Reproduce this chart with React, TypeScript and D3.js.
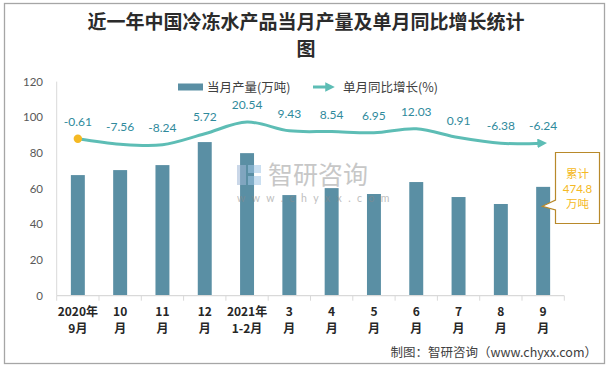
import React from "react";
import * as d3 from "d3";

// chart data
const categories = ["2020年\n9月", "10\n月", "11\n月", "12\n月", "2021年\n1-2月", "3\n月", "4\n月", "5\n月", "6\n月", "7\n月", "8\n月", "9\n月"];
const output = [67.6, 70.4, 73.2, 86.1, 79.9, 56.4, 60.3, 57.0, 63.7, 55.3, 51.4, 61.0];
const growth = [-0.61, -7.56, -8.24, 5.72, 20.54, 9.43, 8.54, 6.95, 12.03, 0.91, -6.38, -6.24];
const yTicks = [0, 20, 40, 60, 80, 100, 120];

const W = 615;
const H = 368;
const margin = { left: 56.7, right: 50.7, top: 81.6, bottom: 72.3 };

const barColor = "#5a8fa4";
const lineColor = "#5dbdb5";
const labelColor = "#2f8a9c";
const numFont = "Lato, 'Liberation Sans', sans-serif";
const cjkFont = "'Noto Sans CJK SC', sans-serif";

export default function App() {
  const x = d3
    .scaleBand<number>()
    .domain(d3.range(categories.length))
    .range([margin.left, W - margin.right])
    .padding(0);
  const y = d3.scaleLinear().domain([0, 120]).range([H - margin.bottom, margin.top]);
  // hidden secondary axis for the growth line
  const y2 = d3.scaleLinear().domain([-200, 72]).range([H - margin.bottom, margin.top]);

  const cx = (i: number) => (x(i) || 0) + x.bandwidth() / 2;
  const barW = x.bandwidth() * 0.33;

  const line = d3
    .line<number>()
    .x((_, i) => cx(i))
    .y((d) => y2(d))
    .curve(d3.curveCatmullRom.alpha(0.5));

  const baseY = y(0);
  const boundaries = d3.range(categories.length + 1).map((i) => margin.left + i * x.bandwidth());

  const last = categories.length - 1;
  const calloutTipX = cx(last) - 0.8;

  return (
    <svg width={W} height={H} style={{ position: "absolute", left: 0, top: 0, background: "#fff" }}>
      <defs>
        <marker id="arrow" viewBox="0 0 10 10" refX="6" refY="5" markerWidth="3.2" markerHeight="3.2" orient="auto">
          <path d="M0,0 L10,5 L0,10 z" fill={lineColor} />
        </marker>
      </defs>

      {/* outer frame */}
      <rect x={4.5} y={3.5} width={600} height={360} fill="none" stroke="#a6a6a6" strokeWidth={1.3} />

      {/* title */}
      <text x={306} y={29} textAnchor="middle" fontFamily={cjkFont} fontWeight={700} fontSize={19} fill="#2b2b2b">
        近一年中国冷冻水产品当月产量及单月同比增长统计
      </text>
      <text x={306} y={56} textAnchor="middle" fontFamily={cjkFont} fontWeight={700} fontSize={19} fill="#2b2b2b">
        图
      </text>

      {/* legend */}
      <rect x={178} y={83.5} width={25} height={7} fill={barColor} />
      <text x={207} y={91.5} fontFamily={cjkFont} fontSize={12.5} fill="#404040">
        当月产量(万吨)
      </text>
      <line x1={313} y1={87} x2={331} y2={87} stroke={lineColor} strokeWidth={3} markerEnd="url(#arrow)" />
      <text x={343} y={91.5} fontFamily={cjkFont} fontSize={12.5} fill="#404040">
        单月同比增长(%)
      </text>

      {/* y axis */}
      <line x1={margin.left} x2={margin.left} y1={margin.top} y2={baseY} stroke="#d9d9d9" />
      {yTicks.map((t) => (
        <text key={t} x={43} y={y(t) + 4} textAnchor="end" fontFamily={numFont} fontSize={11.5} fill="#595959">
          {t}
        </text>
      ))}

      {/* bars */}
      {output.map((v, i) => (
        <rect key={i} x={cx(i) - barW / 2} y={y(v)} width={barW} height={baseY - y(v)} fill={barColor} />
      ))}

      {/* x axis */}
      <line x1={margin.left} x2={W - margin.right} y1={baseY} y2={baseY} stroke="#d9d9d9" strokeWidth={1.2} />
      {boundaries.map((b, i) => (
        <line key={i} x1={b} x2={b} y1={baseY} y2={baseY + 5} stroke="#d9d9d9" />
      ))}
      {categories.map((c, i) => {
        const parts = c.split("\n");
        return (
          <text key={i} textAnchor="middle" fontFamily={cjkFont} fontWeight={700} fontSize={12} fill="#262626">
            <tspan x={cx(i)} y={316}>{parts[0]}</tspan>
            <tspan x={cx(i)} y={333}>{parts[1]}</tspan>
          </text>
        );
      })}

      {/* watermark */}
      <g opacity={0.55}>
        <rect x={237} y={165} width={9} height={20} fill="#9fb8d6" />
        <rect x={248} y={165} width={13} height={8} fill="#9fc6e6" />
        <rect x={248} y={176} width={13} height={9} fill="#9fc6e6" />
        <text x={268} y={184} fontFamily={cjkFont} fontSize={25} fill="#9a9a9a">
          智研咨询
        </text>
        <text x={237} y={202} fontFamily={numFont} fontSize={10.5} letterSpacing={6.4} fill="#8a8a8a">
          www.chyxx.com
        </text>
      </g>

      {/* growth line */}
      <path d={line(growth) || ""} fill="none" stroke={lineColor} strokeWidth={3} markerEnd="url(#arrow)" />
      <circle cx={cx(0)} cy={y2(growth[0])} r={4.2} fill="#f5b923" />
      {growth.map((g, i) => (
        <text key={i} x={cx(i)} y={y2(g) - 13} textAnchor="middle" fontFamily={numFont} fontSize={12} fill={labelColor}>
          {g.toFixed(2)}
        </text>
      ))}

      {/* callout */}
      <path
        d={`M555.5,152.5 H599.5 V223.5 H555.5 V210 L${calloutTipX},206.3 L555.5,200 Z`}
        fill="#fff"
        stroke="#b8892a"
        strokeWidth={1.2}
      />
      <g fontFamily={cjkFont} fontSize={11.5} fill="#f5b923" textAnchor="middle">
        <text x={577.5} y={177.5}>累计</text>
        <text x={577.5} y={193} fontFamily={numFont}>474.8</text>
        <text x={577.5} y={208}>万吨</text>
      </g>

      {/* source */}
      <text x={597} y={357} textAnchor="end" fontFamily={cjkFont} fontSize={12.5} fill="#404040">
        制图：智研咨询（www.chyxx.com）
      </text>
    </svg>
  );
}
